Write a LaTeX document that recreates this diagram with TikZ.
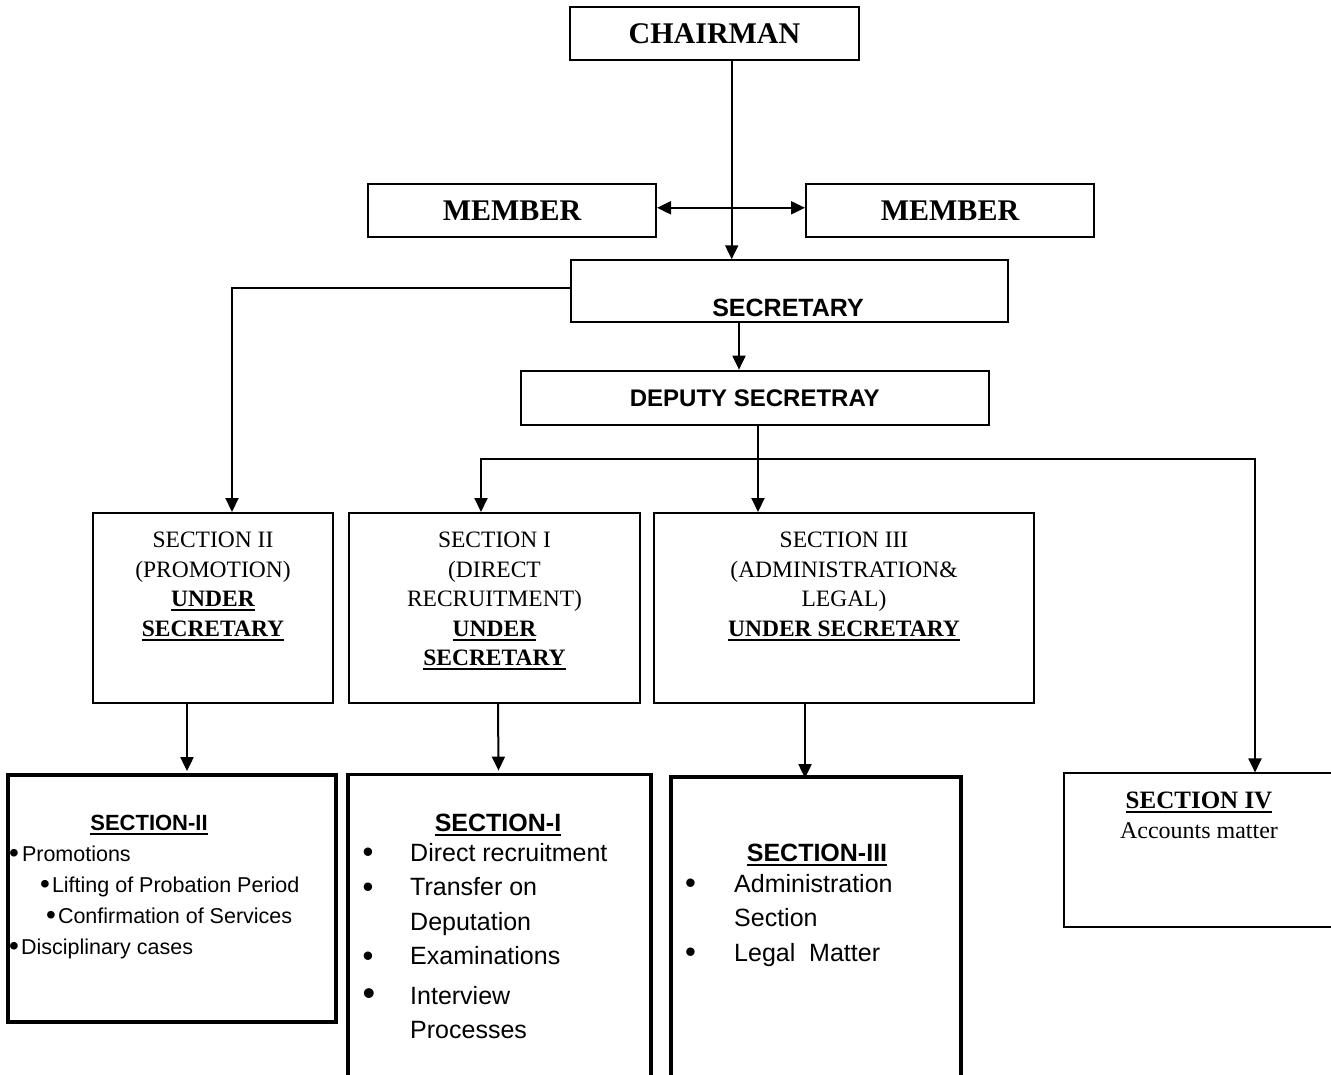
\documentclass[tikz,border=0pt]{standalone}
\usepackage{fontspec}
\setmainfont{Liberation Serif}
\setsansfont{Liberation Sans}
\usetikzlibrary{arrows.meta}

\newcommand{\secul}[1]{\setbox0\hbox{#1}\rlap{\rule[-4.5pt]{\wd0}{2pt}}\box0}
\newcommand{\dotmark}[1]{\raisebox{-1.5pt}{\fontsize{#1}{#1}\selectfont•}}

\tikzset{
  box/.style={draw, line width=2pt, inner sep=0pt},
  heavybox/.style={draw, line width=3.8pt, inner sep=0pt},
  tip/.style={-{Triangle[length=14pt,width=13pt]}},
  link/.style={line width=2pt, tip},
  headfont/.style={font=\fontsize{30}{36}\selectfont\bfseries},
  officefont/.style={font=\sffamily\bfseries\fontsize{25}{30}\selectfont},
  unitfont/.style={font=\fontsize{23.5}{29.5}\selectfont, align=center, inner sep=0pt},
  listfont/.style={font=\sffamily\fontsize{25}{34.5}\selectfont, align=left, inner sep=0pt}
}

\begin{document}
\begin{tikzpicture}[x=1pt,y=-1pt]
\useasboundingbox (0,0) rectangle (1331,1074);

\node[box, headfont, minimum width=289pt, minimum height=53pt] (chair) at (714.5,33.5) {CHAIRMAN};
\node[box, headfont, minimum width=288pt, minimum height=52.5pt] (memL) at (512,210.3) {MEMBER};
\node[box, headfont, minimum width=288pt, minimum height=52.5pt] (memR) at (950,210.3) {MEMBER};
\node[box, minimum width=437pt, minimum height=61.5pt] (sec) at (789.2,291) {};
\node[officefont] (secname) at (788,307.5) {SECRETARY};
\node[box, font=\sffamily\bfseries\fontsize{24}{29}\selectfont, minimum width=467.7pt, minimum height=54.3pt] (dep) at (754.8,397.8) {DEPUTY SECRETRAY};

\node[box, minimum width=240pt, minimum height=190pt] (us2) at (213,608) {};
\node[box, minimum width=291pt, minimum height=190pt] (us1) at (494.5,608) {};
\node[box, minimum width=380pt, minimum height=190pt] (us3) at (844,608) {};
\node[unitfont, anchor=north] (us2txt) at (213,532) {SECTION II\\(PROMOTION)\\\textbf{\secul{UNDER}}\\\textbf{\secul{SECRETARY}}};
\node[unitfont, anchor=north] (us1txt) at (494.5,532) {SECTION I\\(DIRECT\\RECRUITMENT)\\\textbf{\secul{UNDER}}\\\textbf{\secul{SECRETARY}}};
\node[unitfont, anchor=north] (us3txt) at (844,532) {SECTION III\\(ADMINISTRATION\&\\LEGAL)\\\textbf{\secul{UNDER SECRETARY}}};

\node[heavybox, minimum width=328pt, minimum height=247pt] (s2) at (172,898.5) {};
\node[heavybox, minimum width=303pt, minimum height=320pt] (s1) at (499.5,934.5) {};
\node[heavybox, minimum width=290pt, minimum height=320pt] (s3) at (816,937) {};
\node[box, minimum width=296pt, minimum height=153.5pt] (s4) at (1212,850.2) {};

\node[font=\sffamily\bfseries\fontsize{22}{26}\selectfont, anchor=base, inner sep=0pt] (s2head) at (149,830) {\secul{SECTION-II}};
\node[font=\sffamily\fontsize{21.5}{31}\selectfont, align=left, inner sep=0pt, anchor=north west] (s2list) at (9,845.5)
  {\dotmark{28}\hspace{3pt}Promotions\\\hspace*{31pt}\dotmark{28}\hspace{2pt}Lifting of Probation Period\\\hspace*{37pt}\dotmark{28}\hspace{2pt}Confirmation of Services\\\dotmark{28}\hspace{2pt}Disciplinary cases};

\node[font=\sffamily\bfseries\fontsize{25}{30}\selectfont, anchor=base, inner sep=0pt] (s1head) at (498,831) {\secul{SECTION-I}};
\node[listfont, anchor=north west] (s1list) at (362.5,843)
  {\makebox[47.5pt][l]{\dotmark{31}}Direct recruitment\\\makebox[47.5pt][l]{\dotmark{31}}Transfer on\\\hspace*{47.5pt}Deputation\\\makebox[47.5pt][l]{\dotmark{31}}Examinations\\[5pt]\makebox[47.5pt][l]{\dotmark{36}}Interview\\\hspace*{47.5pt}Processes};

\node[font=\sffamily\bfseries\fontsize{25}{30}\selectfont, anchor=base, inner sep=0pt] (s3head) at (817,861) {\secul{SECTION-III}};
\node[listfont, anchor=north west] (s3list) at (685,874)
  {\makebox[49pt][l]{\dotmark{31}}Administration\\\hspace*{49pt}Section\\\makebox[49pt][l]{\dotmark{31}}Legal~ Matter};

\node[font=\fontsize{24}{30}\selectfont, align=center, inner sep=0pt, anchor=north] (s4txt) at (1199,791.5)
  {\textbf{\fontsize{25}{30}\selectfont\secul{SECTION IV}}\\Accounts matter};

\draw[link] ([xshift=17.2pt]chair.south) -- ([xshift=-57.5pt]sec.north);
\draw[line width=2pt, {Triangle[length=14pt,width=13pt]}-{Triangle[length=14pt,width=13pt]}] ([yshift=2.5pt]memL.east) -- ([yshift=2.5pt]memR.west);
\draw[link] ([yshift=3.5pt]sec.west) -| ([xshift=19pt]us2.north);
\draw[link] ([xshift=-50.2pt]sec.south) -- ([xshift=-15.8pt]dep.north);
\draw[link] ([xshift=3.2pt]dep.south) -- ([xshift=-86pt]us3.north);
\coordinate (fork) at (758,459);
\draw[link] (fork) -| ([xshift=-13.5pt]us1.north);
\draw[link] (fork) -| ([xshift=43pt]s4.north);

\draw[link] ([xshift=-26pt]us2.south) -- ([xshift=15pt,yshift=2pt]s2.north);
\draw[link] ([xshift=3.5pt]us1.south) -- ([xshift=-1pt,yshift=2pt]s1.north);
\draw[link] ([xshift=-39pt]us3.south) -- ([xshift=-11pt,yshift=-3pt]s3.north);

\end{tikzpicture}
\end{document}
